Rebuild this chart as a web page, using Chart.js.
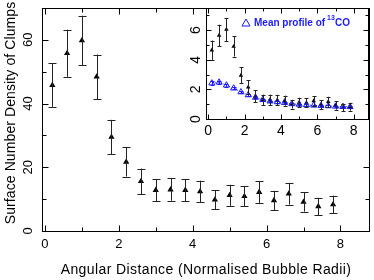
<!DOCTYPE html>
<html>
<head>
<meta charset="utf-8">
<script src="https://cdn.jsdelivr.net/npm/chart.js@4/dist/chart.umd.min.js"></script>
<style>
  html, body { margin: 0; padding: 0; background: #fff; }
  #wrap { position: relative; width: 374px; height: 280px; }
  #wrap canvas { position: absolute; left: 0; top: 0; }
</style>
</head>
<body>
<div id="wrap">
  <canvas id="main" width="374" height="280"></canvas>
  <canvas id="inset" width="374" height="280"></canvas>
</div>
<script>
// bin centres (normalised bubble radii)
const distances = [0.2, 0.6, 1.0, 1.4, 1.8, 2.2, 2.6, 3.0, 3.4, 3.8, 4.2, 4.6, 5.0, 5.4, 5.8, 6.2, 6.6, 7.0, 7.4, 7.8];
// main panel: surface number density of clumps
const clumpDensity = [45.8, 55.8, 59.8, 48.4, 29.5, 21.7, 15.6, 12.8, 13.0, 12.8, 12.4, 9.8, 11.2, 10.9, 12.2, 9.6, 11.7, 9.1, 7.7, 8.3];
const clumpErr = [6.8, 7.4, 7.8, 7.0, 5.4, 4.6, 4.0, 3.5, 3.5, 3.5, 3.4, 3.0, 3.3, 3.2, 3.4, 3.0, 3.4, 3.0, 2.7, 2.8];
// inset: clumps vs mean 13CO profile
const insetClump = [4.65, 5.65, 6.05, 4.9, 2.95, 2.15, 1.55, 1.3, 1.3, 1.28, 1.24, 1.0, 1.12, 1.1, 1.22, 0.97, 1.17, 0.92, 0.78, 0.83];
const insetClumpErr = [0.65, 0.72, 0.78, 0.68, 0.55, 0.46, 0.4, 0.35, 0.35, 0.35, 0.34, 0.3, 0.32, 0.31, 0.33, 0.3, 0.33, 0.29, 0.26, 0.27];
const co13Mean = [2.42, 2.48, 2.28, 2.08, 1.82, 1.62, 1.45, 1.3, 1.2, 1.15, 1.1, 1.02, 0.98, 0.95, 0.92, 0.9, 0.88, 0.85, 0.83, 0.82];
const co13Err = [0.15, 0.12, 0.1, 0.08, 0.07, 0.06, 0.06, 0.05, 0.05, 0.05, 0.05, 0.05, 0.05, 0.05, 0.05, 0.05, 0.05, 0.05, 0.05, 0.05];
// tick labels
const mainXTicks = [0, 2, 4, 6, 8];
const mainYTicks = [0, 20, 40, 60];
const insetXTicks = [0, 2, 4, 6, 8];
const insetYTicks = [0, 2, 4, 6];

const FONT = '"Liberation Sans", Arial, sans-serif';

function pts(xs, ys) {
  return xs.map((x, i) => ({ x: x, y: ys[i] }));
}

// error bars drawn through the chart's scales
const errorBars = {
  id: 'errorBars',
  afterDatasetsDraw(chart) {
    const { ctx, scales: { x, y } } = chart;
    chart.data.datasets.forEach(ds => {
      if (!ds.errors) return;
      ctx.save();
      ctx.strokeStyle = ds.errColor;
      ctx.lineWidth = 1;
      ds.data.forEach((p, i) => {
        const px = Math.round(x.getPixelForValue(p.x)) + 0.5;
        const top = y.getPixelForValue(p.y + ds.errors[i]);
        const bot = y.getPixelForValue(p.y - ds.errors[i]);
        const c = ds.capWidth;
        ctx.beginPath();
        ctx.moveTo(px, top); ctx.lineTo(px, bot);
        ctx.moveTo(px - c, Math.round(top) + 0.5); ctx.lineTo(px + c, Math.round(top) + 0.5);
        ctx.moveTo(px - c, Math.round(bot) + 0.5); ctx.lineTo(px + c, Math.round(bot) + 0.5);
        ctx.stroke();
      });
      ctx.restore();
    });
  }
};

// frame, inward ticks and rotated labels
const frame = {
  id: 'frame',
  beforeDraw(chart, args, o) {
    if (!o.blank) return;
    const { ctx, chartArea: a } = chart;
    ctx.save();
    ctx.fillStyle = '#fff';
    ctx.fillRect(a.left - 22, a.top + 7, a.right - a.left + 22, a.bottom - a.top + 15);
    ctx.fillRect(a.left, a.top, a.right - a.left, a.bottom - a.top);
    ctx.restore();
  },
  afterDraw(chart, args, o) {
    const { ctx, chartArea: a, scales: { x, y } } = chart;
    ctx.save();
    ctx.strokeStyle = '#000';
    ctx.lineWidth = 1;
    const L = Math.round(a.left) + 0.5, R = Math.round(a.right) - 0.5;
    const T = Math.round(a.top) + 0.5, B = Math.round(a.bottom) + 0.5;
    ctx.strokeRect(L, T, R - L, B - T);
    ctx.beginPath();
    for (let v = 0; v <= x.max; v += o.xMinor) {
      const px = Math.round(x.getPixelForValue(v)) + 0.5;
      const len = (Math.abs(v / o.xMajor - Math.round(v / o.xMajor)) < 1e-6) ? o.major : o.minor;
      ctx.moveTo(px, B); ctx.lineTo(px, B - len);
      ctx.moveTo(px, T); ctx.lineTo(px, T + len);
    }
    for (let v = 0; v <= y.max; v += o.yMinor) {
      const py = Math.round(y.getPixelForValue(v)) + 0.5;
      const len = (Math.abs(v / o.yMajor - Math.round(v / o.yMajor)) < 1e-6) ? o.major : o.minor;
      ctx.moveTo(L, py); ctx.lineTo(L + len, py);
      ctx.moveTo(R, py); ctx.lineTo(R - len, py);
    }
    ctx.stroke();

    ctx.fillStyle = '#000';
    ctx.font = o.tickFont;
    ctx.textAlign = 'center';
    ctx.textBaseline = 'middle';
    o.xTicks.forEach(v => ctx.fillText(String(v), x.getPixelForValue(v), B + o.xLabelGap));
    o.yTicks.forEach(v => {
      ctx.save();
      ctx.translate(L - o.yLabelGap, y.getPixelForValue(v));
      ctx.rotate(-Math.PI / 2);
      ctx.fillText(String(v), 0, 0);
      ctx.restore();
    });
    if (o.xTitle) {
      ctx.font = o.titleFont;
      ctx.letterSpacing = '0.4px';
      ctx.fillText(o.xTitle, o.xTitlePos[0], o.xTitlePos[1]);
      ctx.letterSpacing = '0.1px';
      ctx.save();
      ctx.translate(o.yTitlePos[0], o.yTitlePos[1]);
      ctx.rotate(-Math.PI / 2);
      ctx.fillText(o.yTitle, 0, 0);
      ctx.restore();
      ctx.letterSpacing = '0px';
    }
    if (o.legend) {
      const lx = 246, ly = 23;
      ctx.strokeStyle = '#1a1aff';
      ctx.fillStyle = '#1a1aff';
      ctx.beginPath();
      ctx.moveTo(lx, ly - 4); ctx.lineTo(lx + 4, ly + 3); ctx.lineTo(lx - 4, ly + 3); ctx.closePath();
      ctx.stroke();
      ctx.textAlign = 'left';
      ctx.font = 'bold 10px ' + FONT;
      ctx.fillText('Mean profile of', 254, ly);
      ctx.font = 'bold 7px ' + FONT;
      ctx.fillText('13', 327, ly - 5);
      ctx.font = 'bold 10px ' + FONT;
      ctx.fillText('CO', 335, ly);
    }
    ctx.restore();
  }
};

new Chart(document.getElementById('main'), {
  type: 'scatter',
  data: {
    datasets: [{
      data: pts(distances, clumpDensity),
      errors: clumpErr, errColor: '#222', capWidth: 4,
      pointStyle: 'triangle', pointRadius: 3.6,
      backgroundColor: '#000', borderColor: '#000', borderWidth: 0
    }]
  },
  options: {
    responsive: false, animation: false, devicePixelRatio: 1,
    layout: { padding: { left: 42, top: 8, right: 1, bottom: 49 } },
    plugins: {
      legend: { display: false }, tooltip: { enabled: false },
      frame: {
        xMinor: 1, xMajor: 2, yMinor: 10, yMajor: 20, major: 6, minor: 4,
        xTicks: mainXTicks, yTicks: mainYTicks,
        tickFont: '13px ' + FONT, xLabelGap: 13, yLabelGap: 14,
        titleFont: '14px ' + FONT,
        xTitle: 'Angular Distance (Normalised Bubble Radii)', xTitlePos: [206, 270],
        yTitle: 'Surface Number Density of Clumps', yTitlePos: [11, 113]
      }
    },
    scales: {
      x: { type: 'linear', min: -0.08, max: 8.8, display: false },
      y: { type: 'linear', min: 0, max: 70, display: false }
    }
  },
  plugins: [errorBars, frame]
});

new Chart(document.getElementById('inset'), {
  type: 'scatter',
  data: {
    datasets: [{
      data: pts(distances, co13Mean),
      errors: co13Err, errColor: '#1a1aff', capWidth: 2,
      showLine: true, borderDash: [1, 2], borderColor: '#1a1aff', borderWidth: 1,
      pointStyle: 'triangle', pointRadius: 3.5, pointBorderWidth: 1,
      pointBorderColor: '#1a1aff', pointBackgroundColor: 'rgba(255,255,255,0)'
    }, {
      data: pts(distances, insetClump),
      errors: insetClumpErr, errColor: '#222', capWidth: 2,
      pointStyle: 'triangle', pointRadius: 2.6,
      backgroundColor: '#000', borderColor: '#000', borderWidth: 0
    }]
  },
  options: {
    responsive: false, animation: false, devicePixelRatio: 1,
    layout: { padding: { left: 206, top: 8, right: 1, bottom: 161 } },
    plugins: {
      legend: { display: false }, tooltip: { enabled: false },
      frame: {
        blank: true, legend: true,
        xMinor: 1, xMajor: 2, yMinor: 1, yMajor: 2, major: 5, minor: 3,
        xTicks: insetXTicks, yTicks: insetYTicks,
        tickFont: '14px ' + FONT, xLabelGap: 12, yLabelGap: 10
      }
    },
    scales: {
      x: { type: 'linear', min: -0.12, max: 8.84, display: false },
      y: { type: 'linear', min: 0, max: 7.5, display: false }
    }
  },
  plugins: [errorBars, frame]
});
</script>
</body>
</html>
